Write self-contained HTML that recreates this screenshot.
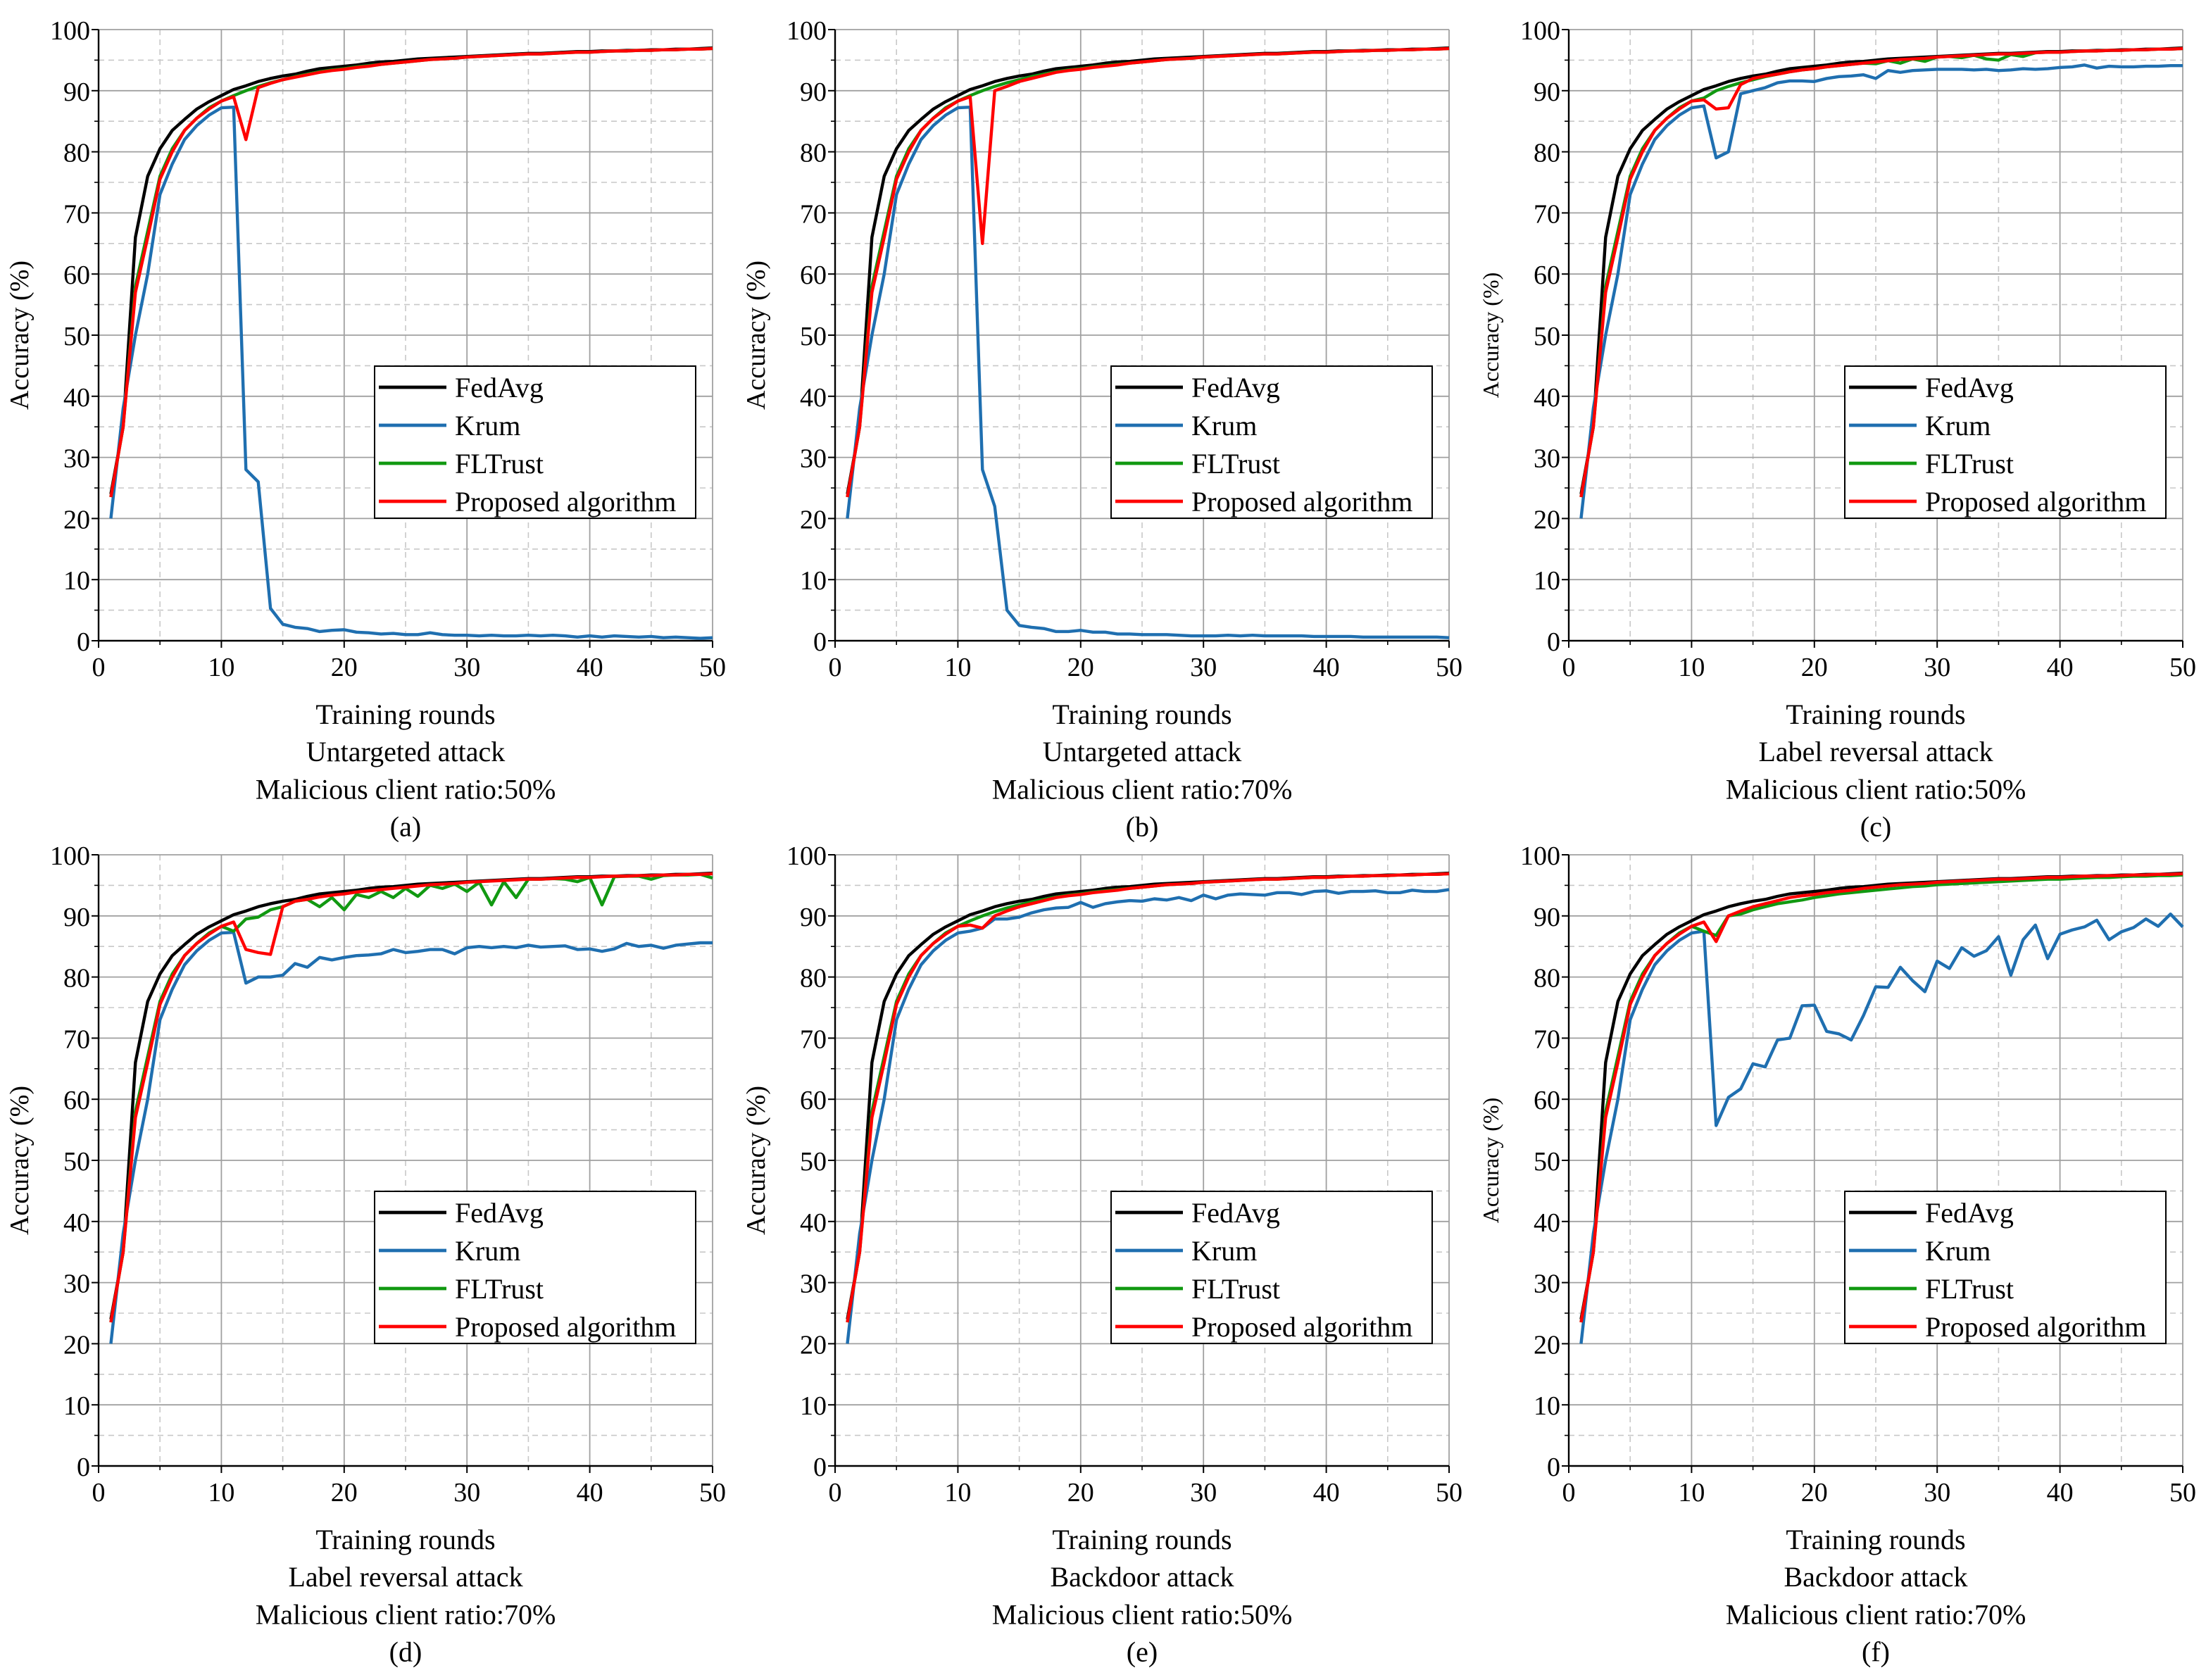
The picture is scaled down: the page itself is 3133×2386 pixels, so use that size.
<!DOCTYPE html>
<html><head><meta charset="utf-8"><style>
html,body{margin:0;padding:0;background:#fff;}
svg{display:block;}
text{font-family:"Liberation Serif","Times New Roman",serif;fill:#000;}
</style></head><body>
<svg id="fig" width="3133" height="2386" viewBox="0 0 1566.5 1193" xmlns="http://www.w3.org/2000/svg" font-family="Liberation Serif, serif"></svg>
<script>
const rounds = Array.from({length:50},(_,i)=>i+1);
const xTicks = [0,10,20,30,40,50];
const yTicks = [0,10,20,30,40,50,60,70,80,90,100];
const seriesNames = ["FedAvg","Krum","FLTrust","Proposed algorithm"];
const fedAvg = [24,35,66,76,80.5,83.5,85.3,87,88.2,89.2,90.2,90.8,91.5,92,92.4,92.7,93.2,93.6,93.8,94,94.2,94.5,94.7,94.8,95,95.2,95.3,95.4,95.5,95.6,95.7,95.8,95.9,96,96.1,96.1,96.2,96.3,96.4,96.4,96.5,96.5,96.6,96.6,96.7,96.7,96.8,96.8,96.9,97];
const flBase = [23.5,35,58,67,76,80.5,83.5,85.5,87.2,88.3,89.2,90,90.7,91.3,91.8,92.3,92.7,93.1,93.4,93.6,93.9,94.1,94.3,94.5,94.7,94.9,95.1,95.2,95.3,95.5,95.6,95.7,95.8,95.9,96,96,96.1,96.2,96.3,96.3,96.4,96.5,96.5,96.6,96.6,96.7,96.7,96.8,96.8,96.9];
const krumA = [20,38,50,60,73,78,82,84.3,86,87.2,87.3,28,26,5.3,2.7,2.2,2,1.5,1.7,1.8,1.4,1.3,1.1,1.2,1,1,1.3,1,0.9,0.9,0.8,0.9,0.8,0.8,0.9,0.8,0.9,0.8,0.6,0.8,0.6,0.8,0.7,0.6,0.7,0.5,0.6,0.5,0.4,0.5];
const krumB = [20,38,50,60,73,78,82,84.3,86,87.2,87.3,28,22,5,2.5,2.2,2,1.5,1.5,1.7,1.4,1.4,1.1,1.1,1,1,1,0.9,0.8,0.8,0.8,0.9,0.8,0.9,0.8,0.8,0.8,0.8,0.7,0.7,0.7,0.7,0.6,0.6,0.6,0.6,0.6,0.6,0.6,0.5];
const krumC = [20,38,50,60,73,78,82,84.3,86,87.2,87.5,79,80,89.5,90,90.5,91.3,91.6,91.6,91.5,92,92.3,92.4,92.6,92,93.3,93,93.3,93.4,93.5,93.5,93.5,93.4,93.5,93.3,93.4,93.6,93.5,93.6,93.8,93.9,94.2,93.7,94,93.9,93.9,94,94,94.1,94.1];
const krumD = [20,38,50,60,73,78,82,84.3,86,87.2,87.3,79,80,80,80.3,82.2,81.6,83.2,82.8,83.2,83.5,83.6,83.8,84.5,84,84.2,84.5,84.5,83.8,84.8,85,84.8,85,84.8,85.2,84.9,85,85.1,84.5,84.6,84.2,84.6,85.5,85,85.2,84.7,85.2,85.4,85.6,85.6];
const krumE = [20,38,50,60,73,78,82,84.3,86,87.2,87.5,88,89.5,89.5,89.8,90.5,91,91.3,91.4,92.2,91.4,92,92.3,92.5,92.4,92.8,92.6,93,92.5,93.4,92.8,93.4,93.6,93.5,93.4,93.8,93.8,93.5,94,94.1,93.7,94,94,94.1,93.8,93.8,94.2,94,94,94.3];
const krumF = [20,38,50,60,73,78,82,84.3,86,87.2,87.5,55.7,60.3,61.7,65.8,65.3,69.7,70,75.3,75.4,71.1,70.7,69.7,73.7,78.4,78.3,81.6,79.4,77.6,82.6,81.4,84.8,83.4,84.3,86.6,80.3,86.1,88.5,83,87,87.7,88.2,89.3,86.1,87.4,88.1,89.5,88.3,90.3,88.2];
const flC = [23.5,35,58,67,76,80.5,83.5,85.5,87.2,88.3,88.8,90,90.7,91.3,91.8,92.3,92.7,93.1,93.4,93.6,93.9,94.1,94.3,94.5,94.4,94.9,94.5,95.2,94.8,95.5,95.6,95.4,95.8,95.2,95,95.9,95.6,96.2,96.3,96.3,96.4,96.5,96.5,96.6,96.6,96.7,96.7,96.8,96.8,96.9];
const flD = [23.5,35,58,67,76,80.5,83.5,85.5,87.2,88.3,87.5,89.5,89.8,91,91.5,92.4,92.7,91.5,93,91,93.5,93,94,93,94.5,93.2,95,94.5,95.2,94,95.5,91.8,95.6,93,96,96,96.1,96,95.6,96.3,91.8,96.4,96.5,96.5,96,96.6,96.7,96.7,96.8,96.2];
const flF = [23.5,35,58,67,76,80.5,83.5,85.5,87.2,88.3,87.5,86.8,90,90.3,91,91.5,92,92.3,92.6,93,93.3,93.6,93.8,94,94.2,94.4,94.6,94.8,94.9,95.1,95.2,95.3,95.4,95.5,95.6,95.7,95.8,95.9,96,96,96.1,96.2,96.3,96.3,96.4,96.5,96.5,96.6,96.6,96.7];
const propA = [23.5,35,57,66,75.5,80,83.5,85.5,87,88.3,89,82,90.5,91.2,91.8,92.2,92.6,93,93.3,93.5,93.8,94,94.3,94.5,94.7,94.9,95.1,95.2,95.3,95.5,95.6,95.7,95.8,95.9,96,96,96.1,96.2,96.3,96.3,96.4,96.5,96.5,96.6,96.6,96.7,96.7,96.8,96.8,96.9];
const propB = [23.5,35,57,66,75.5,80,83.5,85.5,87,88.3,89,65,90,90.7,91.5,92,92.5,93,93.3,93.5,93.8,94,94.2,94.5,94.7,94.9,95.1,95.2,95.3,95.5,95.6,95.7,95.8,95.9,96,96,96.1,96.2,96.3,96.3,96.4,96.5,96.5,96.6,96.6,96.7,96.7,96.8,96.8,96.9];
const propC = [23.5,35,57,66,75.5,80,83.5,85.5,87,88.3,88.5,87,87.2,91,92,92.4,92.7,93.1,93.4,93.6,93.9,94.1,94.3,94.5,94.7,94.9,95.1,95.2,95.3,95.5,95.6,95.7,95.8,95.9,96,96,96.1,96.2,96.3,96.3,96.4,96.5,96.5,96.6,96.6,96.7,96.7,96.8,96.8,96.9];
const propD = [23.5,35,57,66,75.5,80,83.5,85.5,87,88.3,89,84.5,84,83.7,91.5,92.4,92.7,93.1,93.4,93.6,93.9,94.1,94.3,94.5,94.7,94.9,95.1,95.2,95.3,95.5,95.6,95.7,95.8,95.9,96,96,96.1,96.2,96.3,96.3,96.4,96.5,96.5,96.6,96.6,96.7,96.7,96.8,96.8,96.9];
const propE = [23.5,35,57,66,75.5,80,83.5,85.5,87,88.3,88.5,88,90,90.8,91.5,92,92.5,93,93.3,93.5,93.8,94,94.2,94.5,94.7,94.9,95.1,95.2,95.3,95.5,95.6,95.7,95.8,95.9,96,96,96.1,96.2,96.3,96.3,96.4,96.5,96.5,96.6,96.6,96.7,96.7,96.8,96.8,96.9];
const propF = [23.5,35,57,66,75.5,80,83.5,85.5,87,88.3,89,85.8,90,90.8,91.5,92,92.5,93,93.3,93.5,93.8,94,94.2,94.5,94.7,94.9,95.1,95.2,95.3,95.5,95.6,95.7,95.8,95.9,96,96,96.1,96.2,96.3,96.3,96.4,96.5,96.5,96.6,96.6,96.7,96.7,96.8,96.8,96.9];
const panelCaptions = [
 ["Untargeted attack","Malicious client ratio:50%","(a)"],
 ["Untargeted attack","Malicious client ratio:70%","(b)"],
 ["Label reversal attack","Malicious client ratio:50%","(c)"],
 ["Label reversal attack","Malicious client ratio:70%","(d)"],
 ["Backdoor attack","Malicious client ratio:50%","(e)"],
 ["Backdoor attack","Malicious client ratio:70%","(f)"]
];
const panelSeries = [
 [fedAvg,krumA,flBase,propA],
 [fedAvg,krumB,flBase,propB],
 [fedAvg,krumC,flC,propC],
 [fedAvg,krumD,flD,propD],
 [fedAvg,krumE,flBase,propE],
 [fedAvg,krumF,flF,propF]
];
const colors = ["#000000","#1f6fb0","#119911","#ff0000"];
const NS="http://www.w3.org/2000/svg";
const svg=document.getElementById('fig');
const FF='"Liberation Serif", "Times New Roman", serif';
function mk(tag,attrs,parent){const e=document.createElementNS(NS,tag);for(const k in attrs)e.setAttribute(k,attrs[k]);if(tag==='text'){e.setAttribute('font-family',FF);e.style.fontFamily=FF;}(parent||svg).appendChild(e);return e;}
const lefts=[70,593,1114], tops=[21,607], W=436, H=434;
for(let p=0;p<6;p++){
 const L=lefts[p%3], T=tops[Math.floor(p/3)];
 const g=mk('g',{});
 
 
 const xs=v=>L+v/50*W, ys=v=>T+H-v/100*H;
 for(let v=5;v<50;v+=10){const l=mk('line',{x1:xs(v),x2:xs(v),y1:T,y2:T+H,stroke:'#c8c8c8','stroke-width':0.8,'stroke-dasharray':'4,3'},g);
  mk('line',{x1:xs(v),x2:xs(v),y1:T+H,y2:T+H+3,stroke:'#000','stroke-width':0.8},g);}
 for(let v=5;v<100;v+=10){const l=mk('line',{x1:L,x2:L+W,y1:ys(v),y2:ys(v),stroke:'#c8c8c8','stroke-width':0.8,'stroke-dasharray':'4,3'},g);
  mk('line',{x1:L-3,x2:L,y1:ys(v),y2:ys(v),stroke:'#000','stroke-width':0.8},g);}
 xTicks.forEach(v=>{const l=mk('line',{x1:xs(v),x2:xs(v),y1:T,y2:T+H,stroke:'#a0a0a0','stroke-width':0.9},g);
  const t=mk('text',{x:xs(v),y:T+H+25,'text-anchor':'middle','font-size':19},g);t.textContent=v;
  mk('line',{x1:xs(v),x2:xs(v),y1:T+H,y2:T+H+5,stroke:'#000','stroke-width':1},g);});
 yTicks.forEach(v=>{const l=mk('line',{x1:L,x2:L+W,y1:ys(v),y2:ys(v),stroke:'#a0a0a0','stroke-width':0.9},g);
  const t=mk('text',{x:L-6,y:ys(v)+7,'text-anchor':'end','font-size':19},g);t.textContent=v;
  mk('line',{x1:L-5,x2:L,y1:ys(v),y2:ys(v),stroke:'#000','stroke-width':1},g);});
 const ax=mk('path',{d:`M${L},${T}V${T+H}H${L+W}`,fill:'none',stroke:'#000','stroke-width':1.2},g);
 
 panelSeries[p].forEach((arr,si)=>{
  const d=arr.map((v,i)=>(i?'L':'M')+xs(rounds[i]).toFixed(2)+','+ys(v).toFixed(2)).join('');
  const pl=mk('path',{d,fill:'none',stroke:colors[si],'stroke-width':2.2,'stroke-linejoin':'round'},g);
  
  
 });
 const yl=mk('text',{transform:`translate(${L-50},${T+217}) rotate(-90)`,'text-anchor':'middle','font-size':(p%3==2?16:19)},g);
 yl.textContent='Accuracy (%)';
 const caps=["Training rounds"].concat(panelCaptions[p]);
 caps.forEach((c,i)=>{const t=mk('text',{x:L+W/2,y:T+H+59+i*26.6,'text-anchor':'middle','font-size':20},g);t.textContent=c;
  });
 const lg=mk('g',{},g);
 const lx=L+196, ly=T+239;
 mk('rect',{x:lx,y:ly,width:228,height:108,fill:'#fff',stroke:'#000','stroke-width':1},lg);
 seriesNames.forEach((n,i)=>{const yy=ly+15+i*27;
  const e=mk('g',{},lg);
  mk('line',{x1:lx+3,x2:lx+51,y1:yy,y2:yy,stroke:colors[i],'stroke-width':2.4},e);
  const t=mk('text',{x:lx+57,y:yy+7,'font-size':20},e);t.textContent=n;});
}
</script>
</body></html>
